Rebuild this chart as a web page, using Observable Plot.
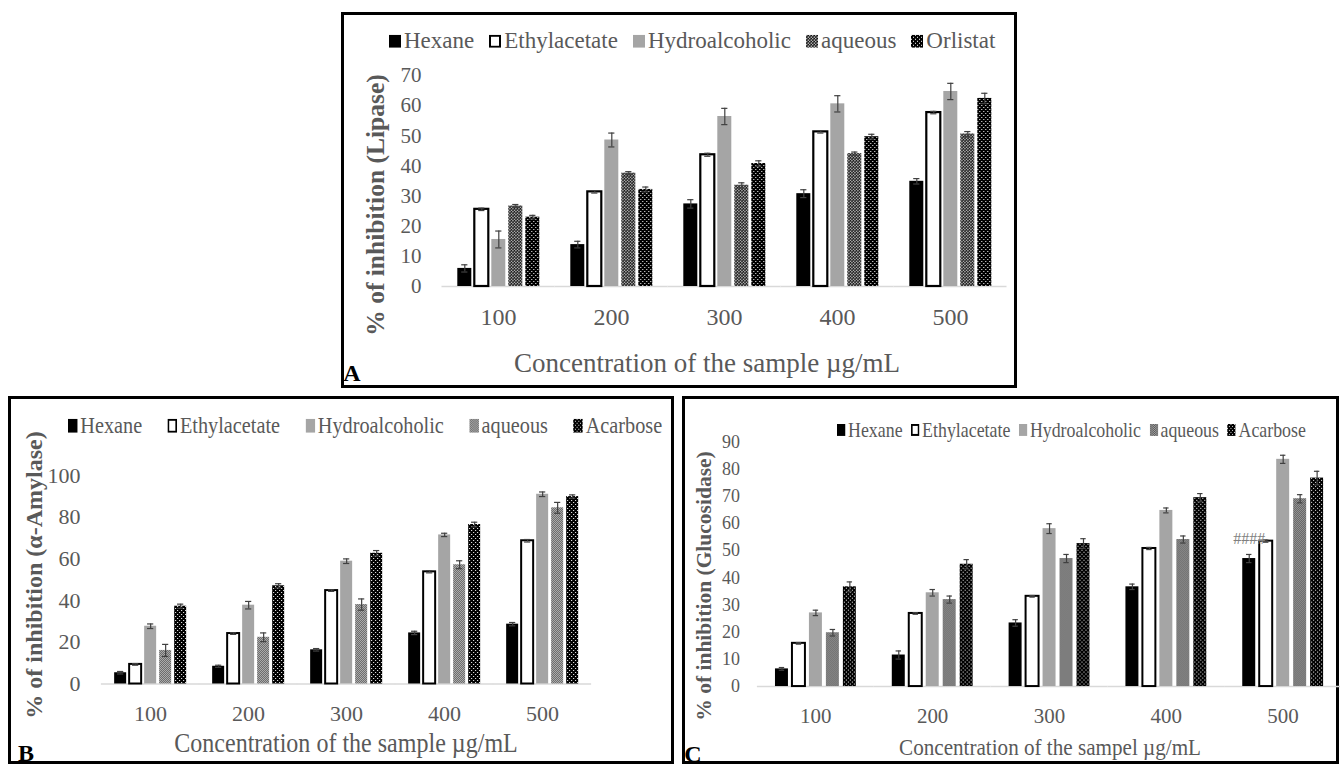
<!DOCTYPE html>
<html><head><meta charset="utf-8">
<script src="https://cdn.jsdelivr.net/npm/d3@7"></script>
<script src="https://cdn.jsdelivr.net/npm/@observablehq/plot@0.6"></script>
<style>
html,body{margin:0;padding:0;background:#fff;}
body{width:1340px;height:768px;position:relative;overflow:hidden;font-family:"Liberation Serif","Times New Roman",serif;color:#595959;}
.box{position:absolute;border:3px solid #000;box-sizing:border-box;}
.abs{position:absolute;white-space:nowrap;line-height:1.15;}
.legend{position:absolute;display:flex;align-items:center;white-space:nowrap;line-height:1.15;transform-origin:0 50%;}
.legend .item{display:flex;align-items:center;}
.rot{font-weight:bold;}
.letter{font-weight:bold;color:#000;}
.plotwrap{position:absolute;}
</style></head><body>
<svg width="0" height="0" style="position:absolute">
<defs>
<pattern id="patCheckA" width="3" height="3" patternUnits="userSpaceOnUse"><rect width="3" height="3" fill="#000"/><circle cx="0.75" cy="0.75" r="0.75" fill="#fff"/><circle cx="2.25" cy="2.25" r="0.75" fill="#fff"/></pattern>
<pattern id="patDots" width="4" height="4" patternUnits="userSpaceOnUse"><rect width="4" height="4" fill="#000"/><rect x="0" y="0" width="1" height="1" fill="#fff"/><rect x="2" y="2" width="1" height="1" fill="#fff"/></pattern>
<pattern id="patGrayB" width="2" height="2" patternUnits="userSpaceOnUse"><rect width="2" height="2" fill="#b8b8b8"/><rect x="0" y="0" width="1" height="1" fill="#606060"/><rect x="1" y="1" width="1" height="1" fill="#606060"/></pattern>
<pattern id="patGrayC" width="2" height="2" patternUnits="userSpaceOnUse"><rect width="2" height="2" fill="#aaaaaa"/><rect x="0" y="0" width="1" height="1" fill="#505050"/><rect x="1" y="1" width="1" height="1" fill="#505050"/></pattern>
</defs></svg>

<div class="box" style="left:341px;top:12px;width:676px;height:376px;"></div>
<div class="box" style="left:8px;top:396px;width:666px;height:368px;"></div>
<div class="box" style="left:682px;top:396px;width:657px;height:368px;"></div>

<script>
// ---------- DATA ----------
const concentrations = ["100", "200", "300", "400", "500"];

// Panel A : Lipase
const seriesA = ["Hexane", "Ethylacetate", "Hydroalcoholic", "aqueous", "Orlistat"];
const lipaseHexane     = [6.0, 13.9, 27.4, 30.8, 34.9];
const lipaseHexaneSD   = [1.2, 1.1, 1.4, 1.3, 0.9];
const lipaseEthyl      = [25.6, 31.4, 43.7, 51.3, 57.7];
const lipaseEthylSD    = [0.4, 0.4, 0.5, 0.4, 0.4];
const lipaseHydro      = [15.6, 48.6, 56.4, 60.6, 64.7];
const lipaseHydroSD    = [2.8, 2.3, 2.7, 2.7, 2.7];
const lipaseAqueous    = [26.7, 37.6, 33.6, 44.1, 50.6];
const lipaseAqueousSD  = [0.5, 0.5, 0.8, 0.5, 0.8];
const lipaseOrlistat   = [23.0, 32.2, 40.8, 49.7, 62.4];
const lipaseOrlistatSD = [0.6, 0.8, 0.9, 0.8, 1.7];
const ticksA = [0, 10, 20, 30, 40, 50, 60, 70];

// Panel B : alpha-Amylase
const seriesB = ["Hexane", "Ethylacetate", "Hydroalcoholic", "aqueous", "Acarbose"];
const amylaseHexane     = [5.4, 8.5, 16.4, 24.5, 28.7];
const amylaseHexaneSD   = [0.6, 0.5, 0.6, 0.8, 0.8];
const amylaseEthyl      = [9.4, 24.2, 44.8, 53.8, 68.7];
const amylaseEthylSD    = [0.4, 0.4, 0.4, 0.5, 0.6];
const amylaseHydro      = [27.7, 37.8, 58.9, 71.5, 91.0];
const amylaseHydroSD    = [1.1, 1.8, 1.1, 0.8, 1.1];
const amylaseAqueous    = [16.1, 22.4, 38.1, 57.2, 84.5];
const amylaseAqueousSD  = [2.9, 2.1, 2.7, 1.9, 2.6];
const amylaseAcarbose   = [37.3, 47.1, 62.7, 76.5, 89.9];
const amylaseAcarboseSD = [1.0, 1.0, 1.3, 1.1, 0.8];
const ticksB = [0, 20, 40, 60, 80, 100];

// Panel C : Glucosidase
const seriesC = ["Hexane", "Ethylacetate", "Hydroalcoholic", "aqueous", "Acarbose"];
const glucHexane     = [6.5, 11.6, 23.4, 36.7, 47.1];
const glucHexaneSD   = [0.5, 1.5, 1.2, 1.0, 1.5];
const glucEthyl      = [15.9, 26.9, 33.2, 50.8, 53.5];
const glucEthylSD    = [0.3, 0.3, 0.3, 0.4, 0.4];
const glucHydro      = [27.1, 34.5, 58.1, 64.8, 83.6];
const glucHydroSD    = [1.0, 1.2, 1.8, 0.9, 1.5];
const glucAqueous    = [19.8, 32.0, 47.1, 54.1, 69.1];
const glucAqueousSD  = [1.2, 1.3, 1.5, 1.3, 1.5];
const glucAcarbose   = [36.7, 45.0, 52.6, 69.5, 76.7];
const glucAcarboseSD = [1.8, 1.7, 1.8, 1.5, 2.5];
const ticksC = [0, 10, 20, 30, 40, 50, 60, 70, 80, 90];
const annotC = [{conc: "500", series: "Hexane", y: 54.4, label: "####"}];

// ---------- HELPERS ----------
const FONT = "'Liberation Serif', 'Times New Roman', serif";
const TEXT = "#595959";
const ERR = "#404040";

function buildRows(series, values, errors) {
  const rows = [];
  series.forEach((s, i) => values[i].forEach((v, j) =>
    rows.push({conc: concentrations[j], series: s, value: v, err: errors[i][j]})));
  return rows;
}

// text placed by its centre; sx squeezes it horizontally (condensed type), rot rotates it
function addText(txt, cls, x, y, size, sx = 1, rot = 0) {
  const d = document.createElement("div");
  d.className = "abs " + cls;
  d.style.left = x + "px";
  d.style.top = y + "px";
  d.style.fontSize = size + "px";
  d.style.transform = `translate(-50%,-50%)` + (sx !== 1 ? ` scaleX(${sx})` : "") + (rot ? ` rotate(${rot}deg)` : "");
  d.textContent = txt;
  document.body.appendChild(d);
}

function legend(cfg) {
  const d = document.createElement("div");
  d.className = "legend";
  d.style.left = cfg.left + "px";
  d.style.top = cfg.top + "px";
  d.style.fontSize = cfg.fontSize + "px";
  d.style.gap = cfg.gap + "px";
  d.style.transform = `translateY(-50%) scaleX(${cfg.sx || 1})`;
  cfg.series.forEach((s, i) => {
    const it = document.createElement("div");
    it.className = "item";
    const w = cfg.sw, h = cfg.sh;
    const outlined = cfg.strokes[i] !== "none";
    const r = outlined
      ? `<rect x="1" y="1" width="${w - 2}" height="${h - 2}" fill="${cfg.fills[i]}" stroke="#000" stroke-width="2"/>`
      : `<rect x="0" y="0" width="${w}" height="${h}" fill="${cfg.fills[i]}"/>`;
    it.innerHTML = `<svg width="${w}" height="${h}" style="display:block;margin-right:${cfg.mr}px">${r}</svg><span>${s}</span>`;
    d.appendChild(it);
  });
  document.body.appendChild(d);
}

function panel(cfg) {
  const rows = buildRows(cfg.series, cfg.values, cfg.errors);
  const bars = cfg.series.map((s, i) =>
    Plot.barY(rows.filter(d => d.series === s), {
      fx: "conc", x: "series", y: "value",
      fill: cfg.fills[i], stroke: cfg.strokes[i], strokeWidth: cfg.outline
    }));
  const chart = Plot.plot({
    width: cfg.width, height: cfg.height,
    marginTop: cfg.mt, marginBottom: cfg.mb, marginLeft: cfg.ml, marginRight: cfg.mr,
    style: {fontFamily: FONT, color: TEXT, background: "transparent", overflow: "visible"},
    fx: {domain: concentrations, paddingInner: cfg.fxIn, paddingOuter: cfg.fxOut},
    x: {domain: cfg.series, paddingInner: cfg.xIn, paddingOuter: 0, axis: null},
    y: {domain: [0, cfg.ymax]},
    marks: [
      Plot.ruleY([0], {stroke: "#d9d9d9", strokeWidth: 1.5, insetLeft: -cfg.gapHalf, insetRight: -cfg.gapHalf}),
      ...bars,
      Plot.ruleX(rows, {fx: "conc", x: "series", y1: d => d.value - d.err, y2: d => d.value + d.err, stroke: ERR, strokeWidth: 1.2}),
      Plot.tickY(rows, {fx: "conc", x: "series", y: d => d.value + d.err, stroke: ERR, strokeWidth: 1.2, insetLeft: cfg.cap, insetRight: cfg.cap}),
      Plot.tickY(rows, {fx: "conc", x: "series", y: d => d.value - d.err, stroke: ERR, strokeWidth: 1.2, insetLeft: cfg.cap, insetRight: cfg.cap}),
      Plot.axisY(cfg.ticks, {tickSize: 0, tickPadding: cfg.yPad, fontSize: cfg.yFont, label: null}),
      Plot.axisFx({anchor: "bottom", tickSize: 0, tickPadding: cfg.fxPad, fontSize: cfg.fxFont, label: null}),
      ...(cfg.extra || [])
    ]
  });
  const wrap = document.createElement("div");
  wrap.className = "plotwrap";
  wrap.style.left = cfg.left + "px";
  wrap.style.top = cfg.top + "px";
  wrap.appendChild(chart);
  document.body.appendChild(wrap);
}

const fillsA = ["#000", "#fff", "#a5a5a5", "url(#patCheckA)", "url(#patDots)"];
const fillsB = ["#000", "#fff", "#a5a5a5", "url(#patGrayB)", "url(#patDots)"];
const fillsC = ["#000", "#fff", "#a5a5a5", "url(#patGrayC)", "url(#patDots)"];
const strokes = ["none", "#000", "none", "none", "none"];

// ---------- PANEL A ----------
panel({
  left: 342, top: 13, width: 674, height: 374,
  mt: 62, mb: 101, ml: 103.7, mr: 13.3,
  fxIn: 0.275, fxOut: 0.1, xIn: 0.19, gapHalf: 15.5, cap: 3.9,
  series: seriesA, fills: fillsA, strokes, outline: 2.2,
  values: [lipaseHexane, lipaseEthyl, lipaseHydro, lipaseAqueous, lipaseOrlistat],
  errors: [lipaseHexaneSD, lipaseEthylSD, lipaseHydroSD, lipaseAqueousSD, lipaseOrlistatSD],
  ymax: 70, ticks: ticksA, yPad: 36, yFont: 21, fxPad: 21.5, fxFont: 24
});
legend({left: 389, top: 41, fontSize: 23, gap: 15, sw: 12, sh: 13, mr: 3, series: seriesA, fills: fillsA, strokes});
addText("Concentration of the sample µg/mL", "", 707, 364, 27);
addText("% of inhibition (Lipase)", "rot", 376, 205, 25.5, 1, -90);
addText("A", "letter", 352, 374, 24);

// ---------- PANEL B ----------
panel({
  left: 11, top: 400, width: 662, height: 361,
  mt: 75, mb: 77.5, ml: 86.85, mr: 79,
  fxIn: 0.266, fxOut: 0.152, xIn: 0.228, gapHalf: 13.1, cap: 2.9,
  series: seriesB, fills: fillsB, strokes, outline: 2,
  values: [amylaseHexane, amylaseEthyl, amylaseHydro, amylaseAqueous, amylaseAcarbose],
  errors: [amylaseHexaneSD, amylaseEthylSD, amylaseHydroSD, amylaseAqueousSD, amylaseAcarboseSD],
  ymax: 100, ticks: ticksB, yPad: 33.9, yFont: 22, fxPad: 21.5, fxFont: 22
});
legend({left: 68, top: 426, fontSize: 23, gap: 29, sw: 11, sh: 14, mr: 3, sx: 0.88, series: seriesB, fills: fillsB, strokes});
addText("Concentration of the sample µg/mL", "", 345.5, 744, 27, 0.89);
addText("% of inhibition (α-Amylase)", "rot", 35, 575, 24, 1, -90);
addText("B", "letter", 26, 754, 24);

// ---------- PANEL C ----------
panel({
  left: 688, top: 400, width: 653, height: 361,
  mt: 41.5, mb: 74.5, ml: 70.9, mr: 0.5,
  fxIn: 0.271, fxOut: 0.1, xIn: 0.243, gapHalf: 16, cap: 3.8,
  series: seriesC, fills: fillsC, strokes, outline: 2,
  values: [glucHexane, glucEthyl, glucHydro, glucAqueous, glucAcarbose],
  errors: [glucHexaneSD, glucEthylSD, glucHydroSD, glucAqueousSD, glucAcarboseSD],
  ymax: 90, ticks: ticksC, yPad: 33.5, yFont: 18, fxPad: 21.5, fxFont: 21,
  extra: [Plot.text(annotC, {fx: "conc", x: "series", y: "y", text: "label", fill: "#808080", fontSize: 16})]
});
legend({left: 837, top: 430, fontSize: 21, gap: 10, sw: 10, sh: 12, mr: 3, sx: 0.85, series: seriesC, fills: fillsC, strokes});
addText("Concentration of the sampel µg/mL", "", 1050, 748, 24, 0.88);
addText("% of inhibition (Glucosidase)", "rot", 704, 586, 21.5, 1, -90);
addText("C", "letter", 693, 755, 24);
</script>
</body></html>
